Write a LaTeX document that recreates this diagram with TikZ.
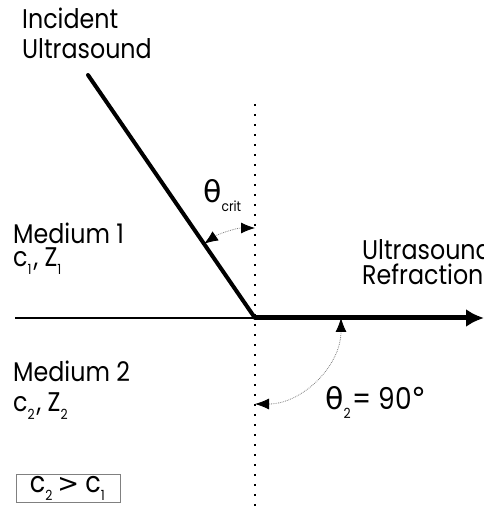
\documentclass[tikz,border=0pt]{standalone}
\usepackage{fontspec}
\setmainfont{Poppins}[FakeStretch=0.88]
\newfontfamily\greekfont{DejaVu Sans}
\newcommand\lowsub[1]{\raisebox{-.28em}{\fontsize{14}{14}\selectfont #1}\kern2pt}
\usetikzlibrary{calc,positioning,arrows.meta}
\tikzset{
 us beam/.style={line width=4pt},
 us refracted/.style={line width=5pt,-{Latex[length=18pt,width=18pt]}},
 us interface/.style={line width=1.5pt},
 us normal/.style={line width=2pt,dash pattern=on 2pt off 8pt},
 us angle/.style={gray,densely dotted,line width=.8pt,
                  {Latex[length=14pt,width=11pt,color=black]}-{Latex[length=14pt,width=11pt,color=black]}},
 us label/.style={font=\fontsize{27}{30}\selectfont,inner sep=0pt,anchor=base west},
 us angle label/.style={font=\fontsize{30}{32}\selectfont,inner sep=0pt,anchor=base west}
}
\begin{document}
\begin{tikzpicture}[x=1pt,y=1pt]
 \useasboundingbox (0,0) rectangle (484,515);
 \clip (0,0) rectangle (484,515);
 % geometry
 \coordinate (O) at (255,197);
 \coordinate (inc) at (88,440);
 \coordinate (out) at (484,197);
 \coordinate (west) at (15,197);
 \coordinate (ntop) at (255,411);
 \coordinate (nbot) at (255,3);
 \draw[us normal] (ntop)--(nbot);
 \draw[us interface] (west)--(O);
 \draw[us beam,line cap=round] (inc)--(O);
 \draw[us refracted] (O)--(out);
 % angles
 \draw[us angle] ($(O)+(90:90)$) arc[start angle=90,end angle=124.5,radius=90];
 \draw[us angle] ($(O)+(0:86)$) arc[start angle=0,end angle=-90,radius=86];
 % labels
 \node[us label] (incA) at (22,486) {Incident};
 \node[us label] (incB) at (22,456) {Ultrasound};
 \node[us label] (med1) at (13,271) {Medium 1};
 \node[us label] (med1c) at (13,248) {c\lowsub{1}, Z\lowsub{1}};
 \node[us label] (med2) at (13,133) {Medium 2};
 \node[us label] (med2c) at (13,103) {c\lowsub{2}, Z\lowsub{2}};
 \node[us label] (refA) at (362,255) {Ultrasound};
 \node[us label] (refB) at (362,230) {Refraction};
 \node[us angle label] (tcrit) at (203,312) {{\greekfont θ}\lowsub{crit}};
 \node[us angle label] (t2) at (325,105) {{\greekfont θ}\lowsub{2}= 90{\greekfont °}};
 \node[us label,font=\fontsize{29}{32}\selectfont,anchor=south west,draw=gray,line width=.6pt,
       minimum width=104pt,minimum height=28pt] (cond) at (16,12)
   {c\lowsub{2}\hspace{3pt}{\greekfont\fontsize{26}{28}\selectfont >}\hspace{6pt}c\lowsub{1}};
\end{tikzpicture}
\end{document}
